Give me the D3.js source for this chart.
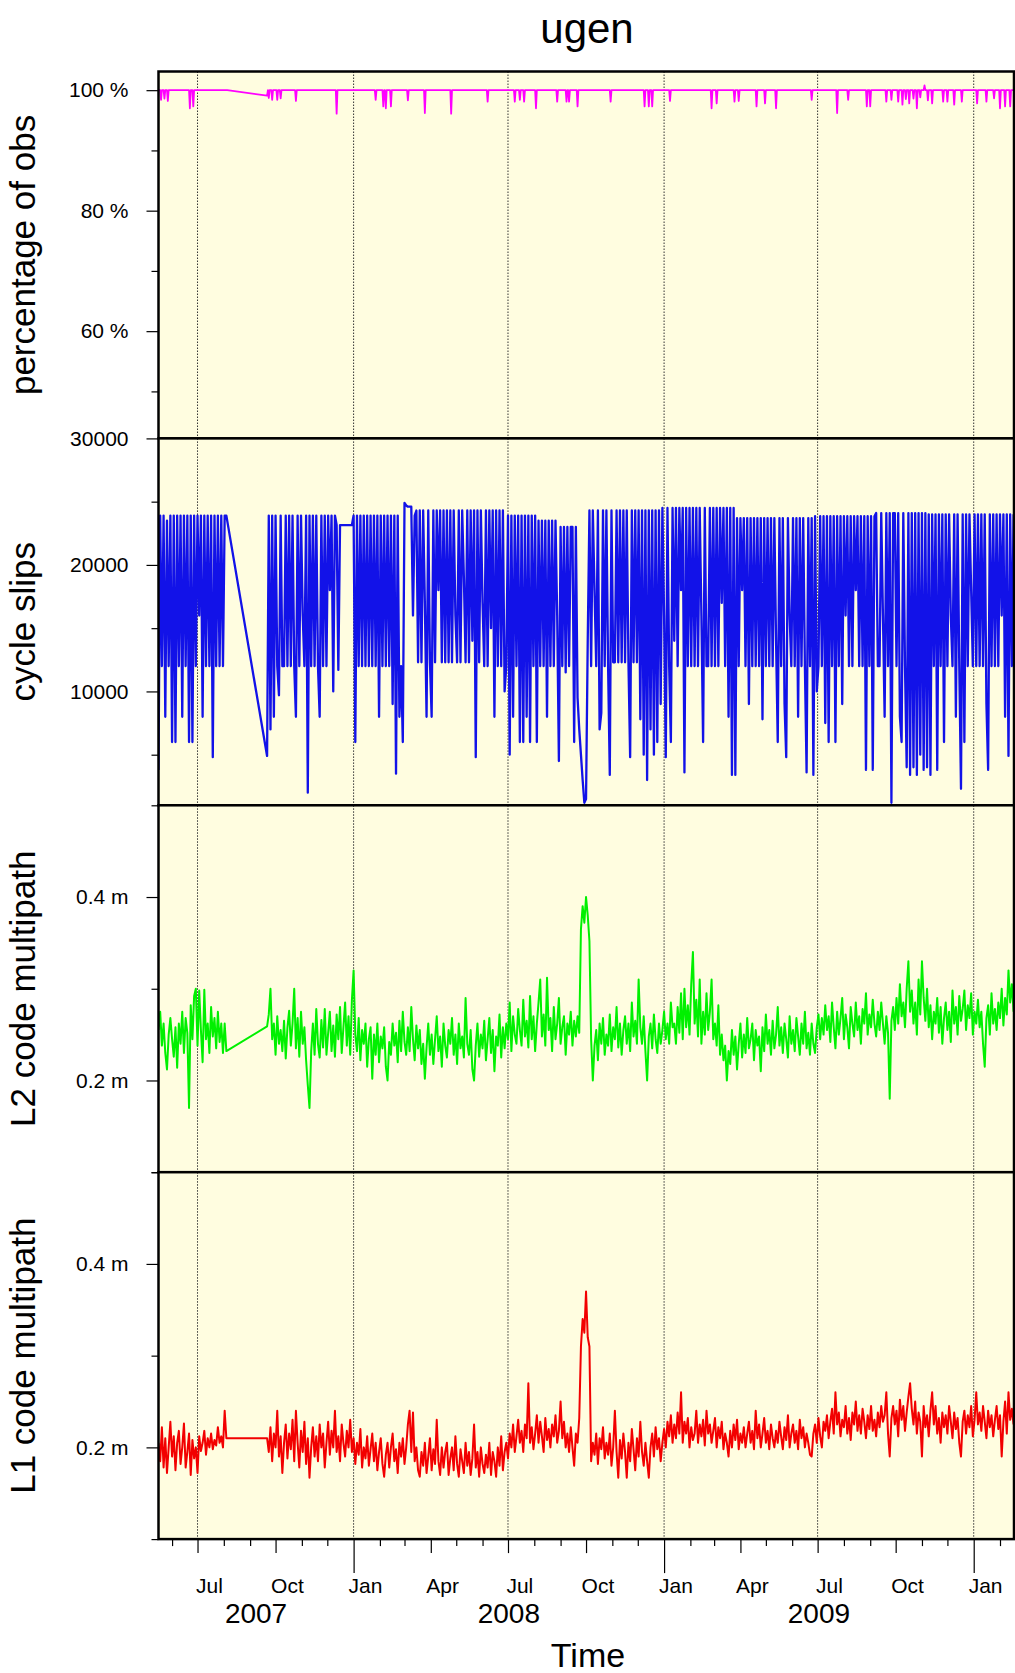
<!DOCTYPE html>
<html>
<head>
<meta charset="utf-8">
<script src="https://cdn.jsdelivr.net/npm/d3@7"></script>
<style>
  body { margin: 0; background: #fff; }
  svg text { font-family: "Liberation Sans", Arial, Helvetica, sans-serif; fill: #000; }
</style>
</head>
<body>
<div class="chart"></div>
<script>
const station = 'ugen';
const obsStart = Date.UTC(2007, 4, 16);
const dayMs = 86400000;

// samples every 2nd day, gap in the record between day 80 and day 128
const daysA = d3.range(0, 81, 2);
const daysB = d3.range(128, 1009, 2);

// percentage of obs: plateau level plus the days where it dropped
const pctLevel = 100;
const pctGapEnd = [128, 99.1];
const pctDipDay = [3, 7, 11, 37, 41, 130, 134, 140, 144, 162, 210, 256, 265, 268, 274, 294, 314, 345, 388, 420, 426, 431, 445,
  470, 481, 484, 494, 533, 573, 578, 582, 603, 652, 658, 679, 684, 705, 715, 728, 770, 800, 813, 835, 839, 858, 864, 872,
  877, 881, 885, 890, 894, 898, 903, 907, 912, 925, 930, 938, 947, 965, 976, 985, 992, 998, 1004];
const pctDipVal = [98.4, 98.6, 98.2, 97.0, 97.3, 98.7, 98.4, 98.4, 98.65, 98.2, 96.1, 98.4, 97.3, 97.0, 97.3, 98.3, 96.2, 96.1, 98.1, 98.1, 98.4, 98.1, 97.0,
  98.1, 98.1, 98.1, 97.3, 98.1, 97.3, 97.3, 97.3, 98.2, 97.0, 97.8, 98.1, 98.2, 97.3, 97.8, 97.0, 98.4, 96.2, 98.4, 97.3, 97.3, 98.1, 98.4, 98.1,
  97.6, 98.5, 97.8, 98.6, 97.0, 98.8, 100.8, 98.3, 97.8, 98.1, 98.1, 97.6, 98.1, 97.8, 98.1, 98.65, 97.0, 97.3, 97.3];

// cycle slips
const slipsA = [3800, 23900, 12000, 23900, 8000, 23500, 12000, 23900, 6000, 23900, 6000, 23900, 12000, 23900, 8000, 23900, 12000, 23900, 6000, 23900,
  6000, 23900, 12000, 23900, 16000, 23900, 8000, 23900, 12000, 23900, 12000, 23900, 4800, 23900, 12000, 23900, 12000, 23900, 12000, 23900, 23900];
const slipsB = [
  4900, 23900, 7000, 23900, 8000, 23900, 12000, 9700, 23900, 12000,
  12000, 23900, 12000, 23900, 12000, 23900, 12000, 8000, 23900, 12000,
  23900, 16000, 12000, 23900, 2000, 23900, 12000, 23900, 12000, 23900,
  12000, 8000, 23900, 12000, 23900, 12000, 23900, 18000, 23900, 10000,
  23900, 23150, 11700, 23150, 23150, 23150, 23150, 23150, 23150, 23150,
  23150, 23900, 6000, 23900, 12000, 23900, 12000, 23900, 12000, 23900,
  12000, 23900, 12000, 23900, 12000, 23900, 8000, 23900, 12000, 23900,
  12000, 23900, 12000, 23900, 9000, 23900, 3500, 23900, 8000, 12000,
  6000, 24900, 24700, 24600, 24600, 24600, 16000, 23900, 24300, 12300,
  24300, 12300, 24300, 17000, 8000, 24300, 12300, 8000, 24300, 12300,
  24300, 18000, 24300, 12300, 24300, 12300, 24300, 12300, 24300, 12300,
  24300, 16000, 12300, 24300, 12300, 24300, 19000, 12300, 24300, 12300,
  24300, 14000, 24300, 4800, 24300, 12300, 24300, 17000, 12000, 24300,
  12000, 24300, 15000, 24300, 8000, 24300, 12000, 24300, 12000, 24300,
  10000, 12000, 23900, 5000, 23900, 8000, 23900, 12000, 23900, 6000,
  23900, 6000, 23900, 8000, 23900, 6000, 23900, 12000, 23900, 6000,
  23500, 12000, 23500, 12000, 23500, 8000, 23500, 12000, 23500, 12000,
  23500, 16000, 4500, 23000, 12000, 23000, 11500, 23000, 12000, 23000,
  23000, 6000, 23000, 9500, 7000, 5000, 3000, 1200, 1500, 14000,
  24300, 12000, 24300, 18000, 12000, 24300, 7000, 8300, 24300, 12000,
  24300, 12000, 3400, 24300, 12300, 12300, 24300, 12300, 24300, 12300,
  24300, 12300, 24300, 12300, 4800, 24300, 12300, 24300, 12300, 24300,
  7800, 24300, 5000, 24300, 3000, 24300, 7000, 24300, 5000, 24300,
  6000, 24300, 9000, 24500, 16000, 4800, 24500, 12000, 6000, 24500,
  14000, 24500, 12000, 24500, 18000, 24500, 3600, 24500, 12000, 24500,
  12000, 24500, 12000, 24500, 12000, 24500, 16000, 6000, 24500, 12000,
  12000, 24500, 12000, 24500, 12000, 24500, 12000, 24500, 17000, 24500,
  12000, 24500, 8000, 24500, 3400, 24500, 3400, 23700, 12000, 23700,
  18000, 23700, 12000, 23700, 9000, 23700, 12000, 23700, 12000, 23700,
  12000, 23700, 7800, 23700, 12000, 23700, 12000, 23700, 12000, 23700,
  14000, 6000, 23700, 12000, 23700, 9000, 4800, 23700, 16000, 12000,
  23700, 12000, 23700, 8000, 23700, 12000, 23700, 12000, 3600, 23700,
  12000, 23700, 3400, 23850, 10000, 12000, 23850, 12000, 23850, 7500,
  23850, 6000, 23850, 12000, 23850, 6000, 23850, 12000, 23850, 9000,
  23850, 16000, 23850, 12000, 23850, 12000, 23850, 18000, 23850, 12000,
  23850, 12000, 23850, 3800, 23850, 12000, 23850, 3800, 23850, 24100,
  12000, 12000, 24100, 16000, 8000, 24100, 12000, 24100, 1200, 24100,
  24100, 12000, 24100, 8000, 6000, 24100, 12000, 4000, 24100, 3400,
  24100, 4000, 24100, 3400, 24100, 5000, 24100, 3800, 24100, 4000,
  24000, 3400, 24000, 12000, 24000, 3800, 24000, 12000, 24000, 6000,
  24000, 12000, 24000, 16000, 12000, 24000, 8000, 24000, 12000, 2300,
  24000, 6000, 24000, 12000, 24000, 18000, 12000, 24000, 12000, 24000,
  12000, 24000, 12000, 24000, 9000, 3800, 24000, 12000, 24000, 12000,
  24000, 12000, 24000, 16000, 24000, 8000, 24000, 4900, 24000, 12000,
  24000];

// L2 code multipath (m)
const l2A = [0.255, 0.275, 0.238, 0.262, 0.230, 0.212, 0.250, 0.268, 0.245, 0.226, 0.258, 0.214, 0.262, 0.240, 0.275, 0.230, 0.268, 0.252, 0.170, 0.282,
  0.245, 0.292, 0.300, 0.238, 0.298, 0.255, 0.220, 0.299, 0.245, 0.262, 0.230, 0.280, 0.248, 0.268, 0.235, 0.275, 0.242, 0.262, 0.230, 0.262, 0.232];
const l2B = [
  0.259, 0.272, 0.300, 0.245, 0.262, 0.228, 0.270, 0.240, 0.255, 0.232,
  0.265, 0.224, 0.258, 0.276, 0.238, 0.262, 0.300, 0.235, 0.268, 0.226,
  0.275, 0.240, 0.258, 0.222, 0.195, 0.170, 0.232, 0.262, 0.228, 0.278,
  0.240, 0.225, 0.266, 0.236, 0.278, 0.228, 0.252, 0.275, 0.232, 0.260,
  0.226, 0.272, 0.245, 0.280, 0.230, 0.258, 0.285, 0.238, 0.270, 0.228,
  0.288, 0.320, 0.250, 0.232, 0.268, 0.222, 0.255, 0.240, 0.262, 0.215,
  0.245, 0.258, 0.202, 0.250, 0.228, 0.262, 0.220, 0.248, 0.235, 0.258,
  0.215, 0.200, 0.242, 0.228, 0.262, 0.238, 0.252, 0.220, 0.265, 0.232,
  0.275, 0.242, 0.228, 0.258, 0.232, 0.280, 0.245, 0.222, 0.260, 0.235,
  0.255, 0.218, 0.240, 0.202, 0.236, 0.262, 0.228, 0.250, 0.218, 0.245,
  0.270, 0.232, 0.248, 0.215, 0.262, 0.238, 0.225, 0.255, 0.240, 0.268,
  0.228, 0.250, 0.218, 0.262, 0.235, 0.248, 0.225, 0.290, 0.240, 0.228,
  0.255, 0.212, 0.200, 0.238, 0.262, 0.226, 0.250, 0.235, 0.265, 0.222,
  0.245, 0.268, 0.230, 0.255, 0.210, 0.248, 0.238, 0.272, 0.225, 0.258,
  0.235, 0.262, 0.245, 0.285, 0.232, 0.270, 0.250, 0.240, 0.278, 0.255,
  0.238, 0.288, 0.248, 0.265, 0.236, 0.292, 0.245, 0.270, 0.232, 0.262,
  0.285, 0.310, 0.248, 0.272, 0.238, 0.312, 0.255, 0.268, 0.232, 0.280,
  0.245, 0.262, 0.290, 0.240, 0.258, 0.270, 0.228, 0.262, 0.250, 0.275,
  0.238, 0.265, 0.248, 0.270, 0.252, 0.365, 0.390, 0.372, 0.400, 0.380,
  0.352, 0.245, 0.200, 0.238, 0.255, 0.222, 0.262, 0.240, 0.268, 0.228,
  0.250, 0.238, 0.272, 0.232, 0.258, 0.245, 0.280, 0.236, 0.262, 0.228,
  0.255, 0.270, 0.240, 0.262, 0.232, 0.285, 0.248, 0.265, 0.240, 0.310,
  0.258, 0.240, 0.270, 0.232, 0.200, 0.248, 0.262, 0.235, 0.272, 0.245,
  0.230, 0.262, 0.240, 0.255, 0.275, 0.245, 0.262, 0.240, 0.285, 0.258,
  0.262, 0.240, 0.280, 0.252, 0.295, 0.245, 0.300, 0.258, 0.282, 0.250,
  0.305, 0.340, 0.262, 0.288, 0.248, 0.310, 0.240, 0.275, 0.250, 0.295,
  0.255, 0.275, 0.310, 0.245, 0.262, 0.238, 0.282, 0.228, 0.250, 0.222,
  0.238, 0.200, 0.232, 0.218, 0.255, 0.228, 0.248, 0.212, 0.240, 0.262,
  0.225, 0.250, 0.230, 0.268, 0.235, 0.245, 0.262, 0.222, 0.255, 0.238,
  0.248, 0.210, 0.258, 0.232, 0.272, 0.240, 0.255, 0.228, 0.265, 0.235,
  0.250, 0.280, 0.238, 0.258, 0.230, 0.262, 0.245, 0.225, 0.270, 0.240,
  0.255, 0.232, 0.268, 0.248, 0.228, 0.262, 0.240, 0.275, 0.235, 0.252,
  0.228, 0.262, 0.240, 0.230, 0.258, 0.272, 0.245, 0.268, 0.250, 0.282,
  0.255, 0.270, 0.242, 0.285, 0.258, 0.235, 0.275, 0.250, 0.268, 0.290,
  0.245, 0.272, 0.258, 0.235, 0.280, 0.262, 0.248, 0.285, 0.255, 0.270,
  0.240, 0.278, 0.262, 0.295, 0.250, 0.272, 0.258, 0.288, 0.262, 0.248,
  0.275, 0.255, 0.285, 0.262, 0.240, 0.270, 0.252, 0.180, 0.265, 0.280,
  0.255, 0.290, 0.262, 0.305, 0.270, 0.285, 0.258, 0.300, 0.330, 0.275,
  0.298, 0.262, 0.285, 0.250, 0.310, 0.272, 0.330, 0.290, 0.265, 0.300,
  0.258, 0.282, 0.245, 0.275, 0.262, 0.290, 0.252, 0.280, 0.240, 0.268,
  0.285, 0.255, 0.275, 0.242, 0.298, 0.262, 0.280, 0.250, 0.292, 0.265,
  0.278, 0.298, 0.255, 0.282, 0.268, 0.295, 0.250, 0.275, 0.262, 0.288,
  0.258, 0.275, 0.240, 0.215, 0.268, 0.282, 0.250, 0.295, 0.262, 0.278,
  0.255, 0.285, 0.268, 0.300, 0.260, 0.290, 0.272, 0.320, 0.285, 0.305,
  0.275];

// L1 code multipath (m)
const l1A = [0.205, 0.185, 0.222, 0.178, 0.210, 0.172, 0.200, 0.228, 0.190, 0.212, 0.175, 0.205, 0.218, 0.182, 0.200, 0.226, 0.178, 0.195, 0.215, 0.170,
  0.208, 0.188, 0.200, 0.172, 0.212, 0.196, 0.205, 0.218, 0.192, 0.210, 0.200, 0.215, 0.198, 0.208, 0.202, 0.222, 0.205, 0.212, 0.200, 0.240, 0.210];
const l1B = [
  0.210, 0.195, 0.222, 0.185, 0.215, 0.200, 0.240, 0.190, 0.212, 0.172,
  0.205, 0.225, 0.188, 0.215, 0.198, 0.230, 0.185, 0.240, 0.205, 0.178,
  0.218, 0.195, 0.228, 0.182, 0.210, 0.167, 0.200, 0.222, 0.190, 0.212,
  0.185, 0.225, 0.200, 0.215, 0.178, 0.205, 0.228, 0.192, 0.218, 0.200,
  0.240, 0.195, 0.212, 0.185, 0.225, 0.205, 0.190, 0.218, 0.200, 0.230,
  0.195, 0.210, 0.182, 0.205, 0.192, 0.220, 0.178, 0.200, 0.188, 0.212,
  0.180, 0.198, 0.215, 0.185, 0.205, 0.175, 0.195, 0.210, 0.182, 0.168,
  0.192, 0.205, 0.178, 0.200, 0.215, 0.185, 0.198, 0.172, 0.205, 0.190,
  0.210, 0.182, 0.200, 0.225, 0.240, 0.195, 0.238, 0.185, 0.200, 0.175,
  0.168, 0.195, 0.180, 0.205, 0.172, 0.190, 0.210, 0.175, 0.198, 0.182,
  0.230, 0.185, 0.170, 0.200, 0.178, 0.195, 0.205, 0.170, 0.188, 0.200,
  0.175, 0.212, 0.182, 0.168, 0.198, 0.185, 0.172, 0.205, 0.180, 0.195,
  0.170, 0.188, 0.225, 0.178, 0.195, 0.168, 0.200, 0.182, 0.172, 0.192,
  0.178, 0.205, 0.170, 0.195, 0.185, 0.168, 0.200, 0.180, 0.212, 0.175,
  0.195, 0.205, 0.188, 0.215, 0.200, 0.225, 0.195, 0.212, 0.230, 0.205,
  0.218, 0.195, 0.225, 0.210, 0.270, 0.205, 0.222, 0.198, 0.215, 0.235,
  0.205, 0.228, 0.212, 0.195, 0.232, 0.208, 0.220, 0.200, 0.225, 0.212,
  0.235, 0.205, 0.218, 0.250, 0.210, 0.228, 0.200, 0.215, 0.195, 0.222,
  0.200, 0.180, 0.215, 0.205, 0.232, 0.310, 0.340, 0.325, 0.370, 0.320,
  0.310, 0.185, 0.205, 0.192, 0.215, 0.182, 0.210, 0.198, 0.222, 0.188,
  0.205, 0.192, 0.215, 0.180, 0.200, 0.240, 0.195, 0.167, 0.208, 0.188,
  0.215, 0.195, 0.167, 0.205, 0.185, 0.220, 0.198, 0.175, 0.210, 0.190,
  0.228, 0.195, 0.180, 0.205, 0.185, 0.167, 0.200, 0.215, 0.190, 0.222,
  0.198, 0.210, 0.185, 0.205, 0.220, 0.200, 0.228, 0.212, 0.235, 0.205,
  0.225, 0.210, 0.238, 0.215, 0.260, 0.205, 0.228, 0.215, 0.232, 0.200,
  0.222, 0.208, 0.215, 0.240, 0.205, 0.225, 0.212, 0.230, 0.202, 0.240,
  0.215, 0.225, 0.205, 0.218, 0.232, 0.200, 0.222, 0.210, 0.228, 0.198,
  0.215, 0.205, 0.190, 0.218, 0.200, 0.225, 0.208, 0.230, 0.198, 0.215,
  0.205, 0.222, 0.200, 0.215, 0.228, 0.205, 0.218, 0.198, 0.240, 0.210,
  0.225, 0.200, 0.215, 0.232, 0.205, 0.218, 0.198, 0.225, 0.210, 0.200,
  0.218, 0.205, 0.228, 0.212, 0.198, 0.222, 0.208, 0.235, 0.200, 0.215,
  0.225, 0.205, 0.218, 0.198, 0.230, 0.210, 0.222, 0.200, 0.215, 0.205,
  0.192, 0.190, 0.215, 0.225, 0.205, 0.232, 0.212, 0.200, 0.228, 0.218,
  0.235, 0.210, 0.228, 0.242, 0.215, 0.260, 0.225, 0.238, 0.212, 0.230,
  0.222, 0.245, 0.215, 0.232, 0.208, 0.238, 0.225, 0.250, 0.218, 0.235,
  0.215, 0.242, 0.228, 0.210, 0.235, 0.220, 0.245, 0.218, 0.230, 0.212,
  0.238, 0.222, 0.245, 0.228, 0.235, 0.260, 0.215, 0.190, 0.232, 0.245,
  0.225, 0.240, 0.212, 0.252, 0.230, 0.245, 0.218, 0.238, 0.255, 0.270,
  0.242, 0.225, 0.250, 0.215, 0.238, 0.228, 0.190, 0.245, 0.222, 0.235,
  0.212, 0.240, 0.260, 0.225, 0.245, 0.215, 0.232, 0.205, 0.238, 0.222,
  0.235, 0.215, 0.245, 0.228, 0.210, 0.238, 0.220, 0.232, 0.205, 0.190,
  0.228, 0.240, 0.215, 0.235, 0.222, 0.245, 0.212, 0.230, 0.260, 0.225,
  0.238, 0.218, 0.245, 0.228, 0.210, 0.240, 0.222, 0.235, 0.212, 0.230,
  0.245, 0.220, 0.235, 0.190, 0.228, 0.250, 0.215, 0.260, 0.230, 0.242,
  0.225];

const yearLabels = [2007, 2008, 2009];

const width = 1015;
const height = 1673;
const plot = { left: 158.5, right: 1014, top: 71.5 };
const panelHeight = 366.9;
const plotBottom = plot.top + 4 * panelHeight;

const toDate = day => new Date(obsStart + day * dayMs);
const series = (days, vals) => days.map((d, i) => ({ date: toDate(d), value: vals[i] })).filter(d => d.value !== undefined);

// percentage line: plateau with a narrow dip on each listed day
const pctPoints = [[0, pctLevel], [81, pctLevel], pctGapEnd, [1008, pctLevel]];
pctDipDay.forEach((d, i) => pctPoints.push([d - 1, pctLevel], [d, pctDipVal[i]], [d + 1, pctLevel]));
pctPoints.sort((a, b) => a[0] - b[0]);

const panels = [
  { label: 'percentage of obs', domain: [42.2, 103.1], major: [60, 80, 100], minor: [50, 70, 90], fmt: d => d + ' %',
    color: '#ff00ff', width: 1.8, data: pctPoints.map(p => ({ date: toDate(p[0]), value: p[1] })) },
  { label: 'cycle slips', domain: [1000, 30000], major: [10000, 20000, 30000], minor: [5000, 15000, 25000], fmt: d => d,
    color: '#1212e8', width: 2.3, data: series(daysA.concat(daysB), slipsA.concat(slipsB)) },
  { label: 'L2 code multipath', domain: [0.1, 0.5], major: [0.2, 0.4], minor: [0.1, 0.3, 0.5], fmt: d => d + ' m',
    color: '#00f000', width: 2, data: series(daysA.concat(daysB), l2A.concat(l2B)) },
  { label: 'L1 code multipath', domain: [0.1, 0.5], major: [0.2, 0.4], minor: [0.1, 0.3, 0.5], fmt: d => d + ' m',
    color: '#f20000', width: 2, data: series(daysA.concat(daysB), l1A.concat(l1B)) }
];

const svg = d3.select('.chart')
  .append('svg')
  .attr('width', width)
  .attr('height', height);

const x = d3.scaleUtc()
  .domain([toDate(0), toDate(1008.5)])
  .range([plot.left, plot.right]);

// title
svg.append('text')
  .attr('x', 587)
  .attr('y', 43)
  .attr('text-anchor', 'middle')
  .style('font-size', '42px')
  .text(station);

const fontFamily = '"Liberation Sans", Arial, Helvetica, sans-serif';

panels.forEach((p, i) => {
  const top = plot.top + i * panelHeight;
  const bottom = top + panelHeight;
  const y = d3.scaleLinear().domain(p.domain).range([bottom, top]);

  svg.append('rect')
    .attr('x', plot.left).attr('y', top)
    .attr('width', plot.right - plot.left).attr('height', panelHeight)
    .attr('fill', '#fffde0');

  svg.append('clipPath').attr('id', 'clip' + i)
    .append('rect')
    .attr('x', plot.left).attr('y', top)
    .attr('width', plot.right - plot.left).attr('height', panelHeight);

  // half-year grid
  svg.append('g')
    .selectAll('line')
    .data(d3.utcMonth.every(6).range(x.domain()[0], x.domain()[1]))
    .join('line')
    .attr('x1', d => x(d)).attr('x2', d => x(d))
    .attr('y1', top).attr('y2', bottom)
    .attr('stroke', '#333')
    .attr('stroke-width', 1)
    .attr('stroke-dasharray', '1.5,1.5');

  const line = d3.line()
    .x(d => x(d.date))
    .y(d => y(d.value));

  svg.append('path')
    .datum(p.data)
    .attr('clip-path', `url(#clip${i})`)
    .attr('d', line)
    .attr('fill', 'none')
    .attr('stroke', p.color)
    .attr('stroke-width', p.width)
    .attr('stroke-linejoin', 'round');

  // y axis, labelled and minor ticks
  const major = svg.append('g')
    .attr('transform', `translate(${plot.left},0)`)
    .call(d3.axisLeft(y).tickValues(p.major).tickSize(12).tickPadding(18).tickFormat(p.fmt));
  major.attr('font-size', 21).attr('font-family', fontFamily);
  major.select('.domain').remove();
  major.selectAll('.tick line').attr('stroke-width', 1.2);

  const minor = svg.append('g')
    .attr('transform', `translate(${plot.left},0)`)
    .call(d3.axisLeft(y).tickValues(p.minor).tickSize(7).tickFormat(''));
  minor.select('.domain').remove();
  minor.selectAll('.tick line').attr('stroke-width', 1.2);

  svg.append('text')
    .attr('transform', `translate(35,${(top + bottom) / 2}) rotate(-90)`)
    .attr('text-anchor', 'middle')
    .style('font-size', '35px')
    .text(p.label);

  svg.append('rect')
    .attr('x', plot.left).attr('y', top)
    .attr('width', plot.right - plot.left).attr('height', panelHeight)
    .attr('fill', 'none')
    .attr('stroke', '#000')
    .attr('stroke-width', 2.5);
});

// time axis
const months = d3.utcMonth.range(d3.utcMonth.ceil(x.domain()[0]), x.domain()[1]);
const xAxis = svg.append('g')
  .attr('transform', `translate(0,${plotBottom})`)
  .call(d3.axisBottom(x).tickValues(months).tickSize(7).tickFormat(''));
xAxis.select('.domain').remove();
xAxis.selectAll('.tick line')
  .attr('stroke-width', 1.2)
  .attr('y2', d => d.getUTCMonth() === 0 ? 34 : d.getUTCMonth() % 3 === 0 ? 14 : 7);

svg.append('g')
  .selectAll('text')
  .data(months.filter(m => m.getUTCMonth() % 3 === 0))
  .join('text')
  .attr('x', d => x(d3.utcDay.offset(d, 14)))
  .attr('y', plotBottom + 54)
  .attr('text-anchor', 'middle')
  .style('font-size', '21px')
  .text(d3.utcFormat('%b'));

svg.append('g')
  .selectAll('text')
  .data(yearLabels)
  .join('text')
  .attr('x', d => {
    const a = Math.max(plot.left, x(new Date(Date.UTC(d, 0, 1))));
    const b = Math.min(plot.right, x(new Date(Date.UTC(d + 1, 0, 1))));
    return (a + b) / 2;
  })
  .attr('y', plotBottom + 84)
  .attr('text-anchor', 'middle')
  .style('font-size', '28px')
  .text(d => d);

svg.append('text')
  .attr('x', 588)
  .attr('y', 1667)
  .attr('text-anchor', 'middle')
  .style('font-size', '34px')
  .text('Time');
</script>
</body>
</html>
